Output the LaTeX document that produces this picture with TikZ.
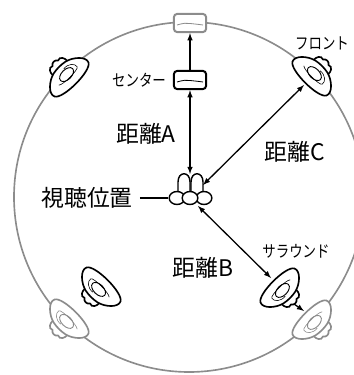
\documentclass[tikz,border=0pt]{standalone}
\usepackage{fontspec}
\setmainfont{Noto Sans CJK JP}
\newfontfamily\narrowjp[FakeStretch=0.82]{Noto Sans CJK JP}
\usetikzlibrary{arrows,positioning,shapes.geometric}
\definecolor{ringgray}{HTML}{8C8C8C}
\tikzset{
    speaker/.pic={
        \draw[line width=1.4pt,fill=white] (-10.5,-10) .. controls (-15,-11) and (-20,-8) .. (-18,-4) .. controls (-21,-2) and (-21,2) .. (-18,4) .. controls (-20,8) and (-15,11) .. (-10.5,10) -- cycle;
        \draw[line width=1.4pt,fill=white] (-12,-8) .. controls (-10,-17) and (-1,-27) .. (5,-24) .. controls (13,-20) and (13,20) .. (5,24) .. controls (-1,27) and (-10,17) .. (-12,8) .. controls (-13,3) and (-13,-3) .. (-12,-8);
        \draw[line width=0.5pt] (-8,-2) .. controls (-9,-9) and (-4,-14) .. (0,-13) .. controls (3,-12) and (3,10) .. (0,13);
        \draw[line width=0.8pt] (-2,0) ellipse [x radius=5,y radius=8.5];
    },
    wave/.pic={
        \draw[line width=0.7pt] (-13,2) .. controls (-6,0) and (-4,0) .. (0,0.5) .. controls (4,1) and (6,1) .. (13,2);
    },
    centerbox/.style={draw,rounded corners=3,line width=1.7pt,fill=white,minimum width=0.97cm,minimum height=0.55cm,inner sep=0pt},
    head/.style={draw,ellipse,line width=1.2pt,fill=white,minimum width=0.47cm,minimum height=0.39cm,inner sep=0pt},
    biglabel/.style={font=\fontsize{19.5}{21}\selectfont,inner sep=0pt},
    smalllabel/.style={font=\narrowjp\fontsize{14}{15}\selectfont,inner sep=0pt},
    dist/.style={line width=1.1pt,>=latex},
}
\begin{document}
\begin{tikzpicture}[x=0.03cm,y=-0.03cm]
    \useasboundingbox (0,0) rectangle (353,375);
    \draw[ringgray,line width=1.4pt] (189,197) circle [radius=175];
    % speakers
    \pic[rotate=-45] at (68,76) {speaker};
    \pic[rotate=225] at (313,75) {speaker};
    \pic[rotate=45] at (100,288) {speaker};
    \pic[rotate=135] at (281,289) {speaker};
    \pic[rotate=45,color=ringgray] at (68,320) {speaker};
    \pic[rotate=135,color=ringgray] at (313,321) {speaker};
    % center speakers
    \node[centerbox,draw=ringgray] (centerfar) at (190,23) {};
    \node[centerbox] (centernear) at (190,80) {};
    \pic[color=ringgray] at (190,23) {wave};
    \pic at (190,80) {wave};
    % listener
    \draw[line width=1.2pt,fill=white] (178,192) -- (178,182) .. controls (178,171) and (190,171) .. (190,182) -- (190,192);
    \draw[line width=1.2pt,fill=white] (191,192) -- (191,182) .. controls (191,171) and (203,171) .. (203,182) -- (203,192);
    \node[head] (headl) at (177,198) {};
    \node[head] (headr) at (204,198) {};
    \node[head] (headm) at (190,198) {};
    \coordinate (eartop) at (190,174);
    \coordinate (frontseat) at (203,185);
    \coordinate (rearseat) at (198,206);
    \coordinate (fronttip) at (304,85);
    \coordinate (reartip) at (271,278);
    \coordinate (surrfrom) at (294,304);
    \coordinate (surrto) at (304,311);
    % distances
    \draw[dist,->] (centernear) -- (centerfar);
    \draw[dist,<->] (centernear) -- (eartop);
    \draw[dist,<->] (frontseat) -- (fronttip);
    \draw[dist,<->] (rearseat) -- (reartip);
    \draw[dist,->] (surrfrom) -- (surrto);
    % labels
    \node[biglabel] (dista) at (146,134) {距離A};
    \node[biglabel] (distc) at (295,152) {距離C};
    \node[biglabel] (distb) at (203,268) {距離B};
    \node[biglabel] (seat) at (87,198) {視聴位置};
    \node[smalllabel] (centerlabel) at (139,80) {センター};
    \node[smalllabel] (frontlabel) at (322,43) {フロント};
    \node[smalllabel] (surrlabel) at (296,251) {サラウンド};
    \draw[line width=1.2pt] (seat.east) ++(7,0) coordinate (seatline) -- (headl);
\end{tikzpicture}
\end{document}
